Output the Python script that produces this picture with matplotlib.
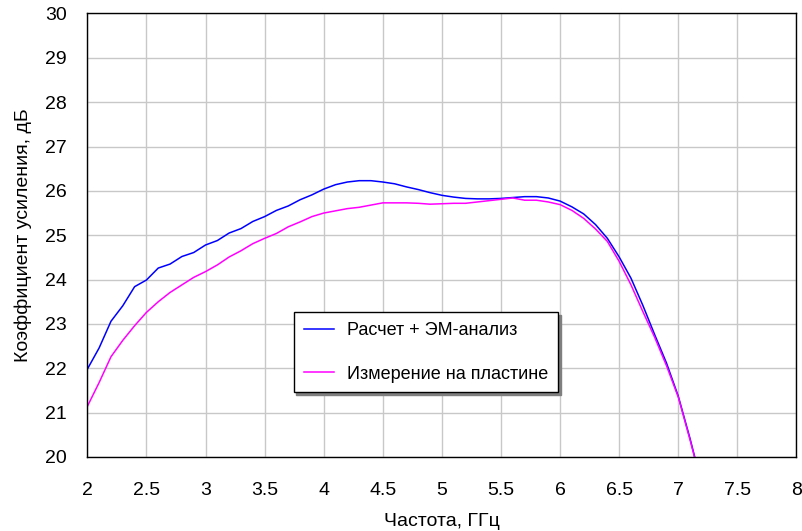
import matplotlib
matplotlib.use("Agg")
import matplotlib.pyplot as plt

# frequency grid, GHz
freq = [2.0, 2.1, 2.2, 2.3, 2.4, 2.5, 2.6, 2.7, 2.8, 2.9,
        3.0, 3.1, 3.2, 3.3, 3.4, 3.5, 3.6, 3.7, 3.8, 3.9,
        4.0, 4.1, 4.2, 4.3, 4.4, 4.5, 4.6, 4.7, 4.8, 4.9,
        5.0, 5.1, 5.2, 5.3, 5.4, 5.5, 5.6, 5.7, 5.8, 5.9,
        6.0, 6.1, 6.2, 6.3, 6.4, 6.5, 6.6, 6.7, 6.8, 6.9,
        7.0, 7.1, 7.2]

# calculation + EM analysis, dB
gain_calc = [21.98, 22.46, 23.06, 23.41, 23.84, 23.99, 24.26, 24.35, 24.52, 24.61,
             24.78, 24.88, 25.05, 25.15, 25.31, 25.42, 25.56, 25.66, 25.80, 25.91,
             26.04, 26.14, 26.20, 26.23, 26.23, 26.20, 26.16, 26.09, 26.03, 25.96,
             25.90, 25.86, 25.83, 25.82, 25.82, 25.83, 25.85, 25.87, 25.87, 25.84,
             25.77, 25.64, 25.48, 25.24, 24.93, 24.51, 24.03, 23.42, 22.76, 22.12,
             21.37, 20.41, 19.36]

# on-wafer measurement, dB
gain_meas = [21.14, 21.68, 22.26, 22.63, 22.96, 23.26, 23.50, 23.71, 23.88, 24.05,
             24.18, 24.33, 24.51, 24.65, 24.81, 24.93, 25.04, 25.19, 25.30, 25.42,
             25.50, 25.55, 25.60, 25.63, 25.68, 25.73, 25.73, 25.73, 25.72, 25.70,
             25.71, 25.72, 25.72, 25.75, 25.78, 25.81, 25.84, 25.79, 25.79, 25.75,
             25.69, 25.56, 25.38, 25.14, 24.86, 24.41, 23.88, 23.28, 22.70, 22.06,
             21.35, 20.38, 19.36]

labels = ["Расчет + ЭМ-анализ", "Измерение на пластине"]
x_ticks = [2, 2.5, 3, 3.5, 4, 4.5, 5, 5.5, 6, 6.5, 7, 7.5, 8]
x_tick_labels = ["2", "2.5", "3", "3.5", "4", "4.5", "5", "5.5", "6", "6.5", "7", "7.5", "8"]
y_ticks = list(range(20, 31))

font = ["Liberation Sans", "DejaVu Sans"]
plt.rcParams["font.family"] = font

fig = plt.figure(figsize=(8.02, 5.31), dpi=100)
ax = fig.add_axes([0.1089, 0.1394, 0.8842, 0.8352])

ax.plot(freq, gain_calc, color="#0000ff", lw=1.1, label=labels[0])
ax.plot(freq, gain_meas, color="#ff00ff", lw=1.1, label=labels[1])

ax.set_xlim(2, 8)
ax.set_ylim(20, 30)
ax.set_xticks(x_ticks)
ax.set_xticklabels(x_tick_labels)
ax.set_yticks(y_ticks)
ax.grid(True, color="#c8c8c8", lw=1.0)
ax.set_axisbelow(True)
ax.tick_params(length=0, labelsize=14)
ax.tick_params(axis="x", pad=18)
ax.tick_params(axis="y", pad=15)
for sp in ax.spines.values():
    sp.set_color("black")
    sp.set_linewidth(1.0)

ax.set_xlabel("Частота, ГГц", fontsize=14, labelpad=10)
ax.set_ylabel("Коэффициент усиления, дБ", fontsize=14, labelpad=9)

leg = ax.legend(loc="upper left", bbox_to_anchor=(0.291, 0.326), borderaxespad=0,
                fancybox=False, shadow={"color": "#7f7f7f", "alpha": 1},
                edgecolor="black", framealpha=1,
                prop={"size": 13},
                handlelength=1.7, handletextpad=0.7, labelspacing=1.45,
                borderpad=0.55)
leg.get_frame().set_linewidth(1.0)

fig.savefig("out.png", dpi=100)
